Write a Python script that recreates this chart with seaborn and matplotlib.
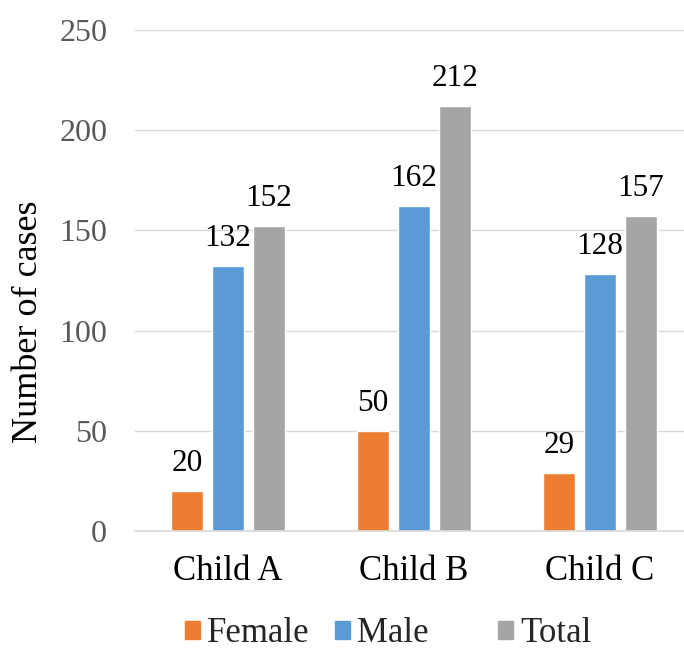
import matplotlib
matplotlib.use("Agg")
import matplotlib.pyplot as plt
from matplotlib.patches import Patch
import seaborn as sns
import pandas as pd

# Case counts per child, split by sex
children = ["Child A", "Child B", "Child C"]
groups = ["Female", "Male", "Total"]
female = [20, 50, 29]
male = [132, 162, 128]
total = [152, 212, 157]
y_ticks = [0, 50, 100, 150, 200, 250]

palette = {"Female": "#ED7D31", "Male": "#5B9BD5", "Total": "#A5A5A5"}

df = pd.DataFrame({
    "child": children * 3,
    "group": [g for g in groups for _ in children],
    "cases": female + male + total,
})

sns.set_theme(style="white")
plt.rcParams["font.family"] = ["Liberation Serif", "DejaVu Serif"]

W, H = 684, 650
fig = plt.figure(figsize=(W / 100, H / 100), dpi=100)
ax = fig.add_axes([135 / W, 119 / H, 549 / W, 501 / H])

sns.barplot(
    data=df, x="child", y="cases", hue="group",
    order=children, hue_order=groups, palette=palette,
    width=0.661, gap=0.22, saturation=1, errorbar=None,
    legend=False, ax=ax,
)

for container in ax.containers:
    ax.bar_label(container, fmt="%d", padding=9.5, fontsize=22.5, color="black")

ax.set_ylim(0, 250)
ax.set_xlim(-0.5, 2.452)
ax.set_yticks(y_ticks)
ax.yaxis.grid(True, color="#D9D9D9", linewidth=1)
ax.xaxis.grid(False)
ax.set_axisbelow(True)

for side in ("left", "top", "right"):
    ax.spines[side].set_visible(False)
ax.spines["bottom"].set_color("#D9D9D9")
ax.spines["bottom"].set_linewidth(1.2)

ax.tick_params(axis="y", length=0, pad=20, labelsize=23, labelcolor="#595959")
ax.tick_params(axis="x", length=0, pad=17, labelsize=25, labelcolor="black")
ax.set_xlabel("")
ax.set_ylabel("Number of cases", fontsize=26, color="black")
ax.yaxis.set_label_coords(-0.164, 0.417)

# Legend entries along the bottom edge
legend_x = [185, 335, 498]
for name, xpix in zip(groups, legend_x):
    fig.legend(
        handles=[Patch(color=palette[name])], labels=[name],
        loc="center left", bbox_to_anchor=(xpix / W, 16 / H),
        frameon=False, fontsize=25, handlelength=0.43, handleheight=0.43,
        handletextpad=0.2, borderpad=0, borderaxespad=0,
    )

fig.savefig("out.png", dpi=100)
